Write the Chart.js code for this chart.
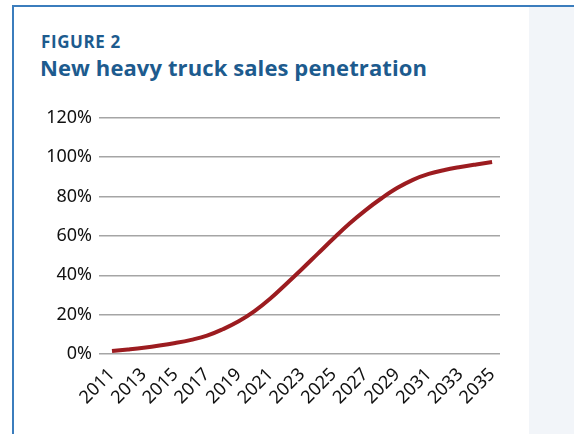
<!DOCTYPE html>
<html lang="en">
<head>
    <meta charset="UTF-8">
    <title>New heavy truck sales penetration</title>
    <script src="https://cdn.jsdelivr.net/npm/chart.js"></script>
    <style>
        body { margin: 0; width: 574px; height: 434px; overflow: hidden; background: #fff; position: relative; font-family: "Noto Sans", sans-serif; }
        .frame { position: absolute; left: 12px; top: 5px; right: -5px; bottom: -10px; border-top: 2px solid #3b7dbd; border-left: 2px solid #3b7dbd; }
        .panel { position: absolute; left: 529px; top: 7px; right: 0; bottom: 0; background: #f2f5f9; }
        .fig { position: absolute; left: 41px; top: 30px; font: bold 17px "Open Sans", sans-serif; color: #1d5b8e; letter-spacing: 0.6px; }
        .title { position: absolute; left: 40px; top: 52px; font: bold 22px "Open Sans", sans-serif; color: #1d5b8e; letter-spacing: 0.1px; }
        .chart-box { position: absolute; left: 30px; top: 100px; width: 480px; height: 320px; }
    </style>
</head>
<body>

<div class="frame"></div>
<div class="panel"></div>
<div class="fig">FIGURE 2</div>
<div class="title">New heavy truck sales penetration</div>
<div class="chart-box"><canvas id="chart"></canvas></div>

<script>
    // data
    const years = [2011, 2012, 2013, 2014, 2015, 2016, 2017, 2018, 2019, 2020, 2021, 2022, 2023,
                   2024, 2025, 2026, 2027, 2028, 2029, 2030, 2031, 2032, 2033, 2034, 2035];
    const penetration = [1.5, 2.3, 3.2, 4.3, 5.6, 7.2, 9.3, 12.6, 16.6, 21.8, 28.2, 35.6, 43.2,
                         51, 58.8, 66.3, 73, 79, 84.3, 88.5, 91.5, 93.5, 95, 96.3, 97.5];
    const yearTicks = [2011, 2013, 2015, 2017, 2019, 2021, 2023, 2025, 2027, 2029, 2031, 2033, 2035];
    const pctTicks = [0, 20, 40, 60, 80, 100, 120];

    const points = years.map((y, i) => ({ x: y, y: penetration[i] }));

    new Chart(document.getElementById('chart'), {
        type: 'line',
        data: {
            datasets: [{
                data: points,
                borderColor: '#9c1c20',
                borderWidth: 4,
                pointRadius: 0,
                tension: 0.4,
                fill: false
            }]
        },
        options: {
            responsive: true,
            maintainAspectRatio: false,
            animation: false,
            layout: { padding: { top: 15, right: 10, left: 0, bottom: 0 } },
            plugins: { legend: { display: false }, tooltip: { enabled: false } },
            scales: {
                x: {
                    type: 'linear',
                    min: 2010.18,
                    max: 2035.5,
                    afterBuildTicks: (s) => { s.ticks = yearTicks.map(v => ({ value: v })); },
                    afterFit: (s) => { s.height = 66; },
                    grid: { display: false },
                    border: { display: false },
                    ticks: {
                        minRotation: 45,
                        maxRotation: 45,
                        autoSkip: false,
                        padding: 2,
                        color: '#111',
                        font: { family: 'Noto Sans', size: 18 },
                        callback: (v) => String(v)
                    }
                },
                y: {
                    min: 0,
                    max: 120,
                    afterBuildTicks: (s) => { s.ticks = pctTicks.map(v => ({ value: v })); },
                    afterFit: (s) => { s.width = 69; },
                    grid: { color: '#a5a5a5', lineWidth: 1.5, drawTicks: false },
                    border: { display: false },
                    ticks: {
                        padding: 7,
                        color: '#111',
                        font: { family: 'Noto Sans', size: 18 },
                        callback: (v) => v + '%'
                    }
                }
            }
        }
    });
</script>

</body>
</html>
